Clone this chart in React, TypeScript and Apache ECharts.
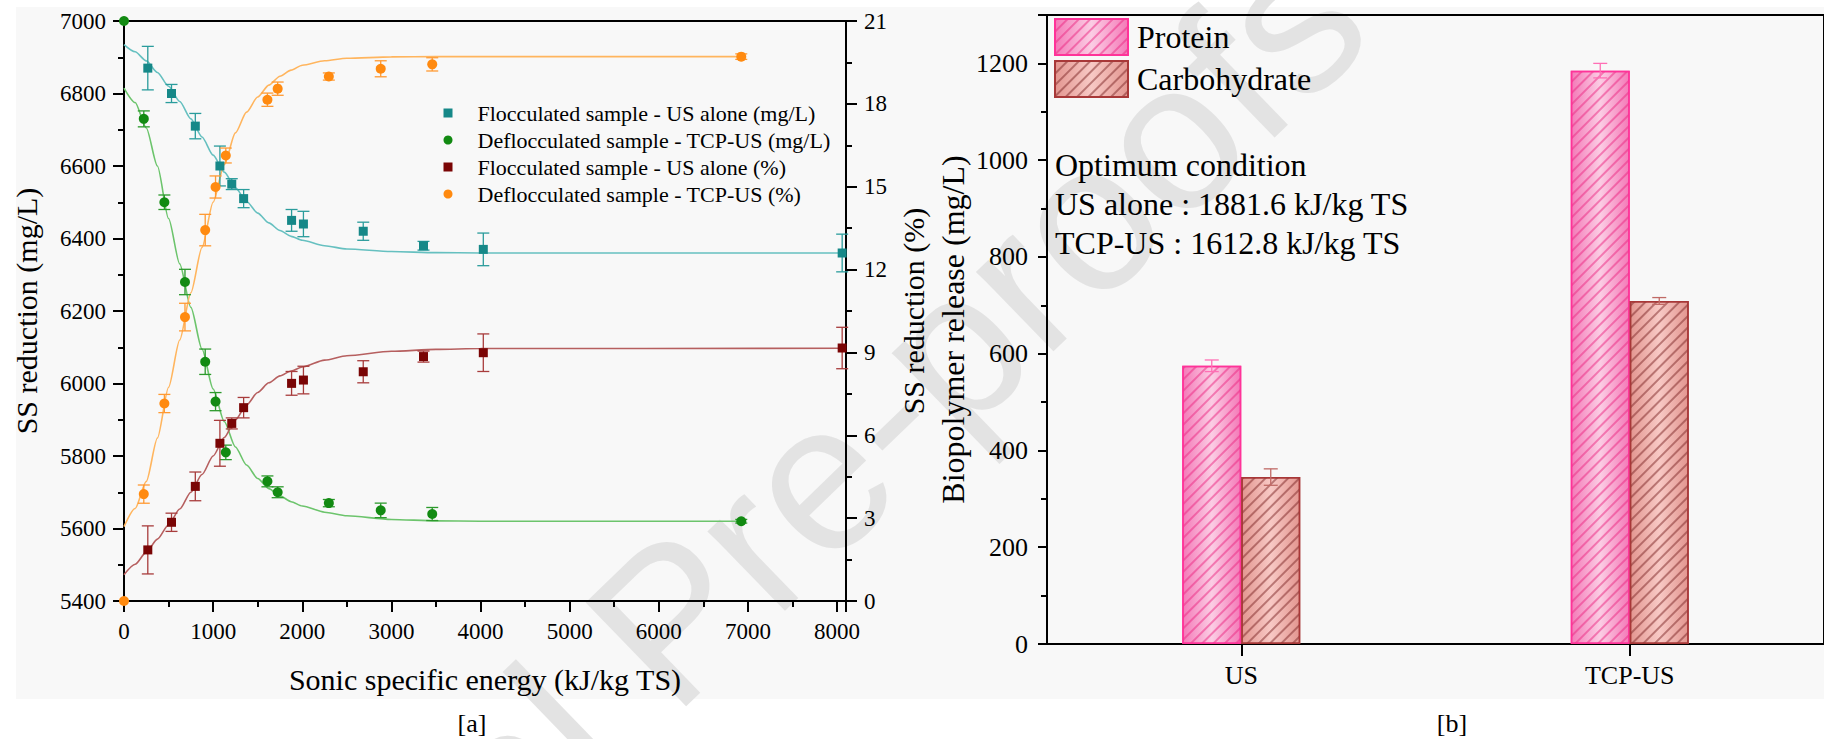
import React, { useEffect, useRef } from "react";
import * as echarts from "echarts";

const FONT = "Liberation Serif";

// ---------- Panel [a] data ----------
const energyFloc = [267, 533, 800, 1076, 1209, 1342, 1880, 2013, 2684, 3360, 4031, 8057];
const flocMg = [6870, 6800, 6710, 6600, 6550, 6510, 6450, 6440, 6420, 6380, 6370, 6360];
const flocMgErr = [60, 25, 35, 55, 15, 25, 30, 35, 25, 12, 45, 52];
const flocPct = [1.85, 2.85, 4.15, 5.71, 6.43, 7.0, 7.88, 8.0, 8.3, 8.85, 8.99, 9.16];
const flocPctErr = [0.87, 0.33, 0.52, 0.83, 0.2, 0.37, 0.43, 0.5, 0.4, 0.2, 0.68, 0.75];

const energyDefloc = [0, 222, 453, 684, 911, 1027, 1142, 1609, 1724, 2298, 2880, 3458, 6925];
const deflocMg = [7000, 6730, 6500, 6280, 6060, 5950, 5810, 5730, 5700, 5670, 5650, 5640, 5620];
const deflocMgErr = [0, 22, 20, 35, 35, 25, 20, 15, 15, 10, 20, 18, 5];
const deflocPct = [0, 3.87, 7.15, 10.28, 13.43, 14.99, 16.13, 18.15, 18.55, 18.99, 19.27, 19.43, 19.71];
const deflocPctErr = [0, 0.33, 0.33, 0.5, 0.57, 0.4, 0.27, 0.24, 0.24, 0.13, 0.29, 0.24, 0.1];

// fitted curves
const fitFlocX = [0, 125, 250, 375, 500, 625, 750, 875, 1000, 1125, 1250, 1375, 1500, 1625, 1750, 1875, 2000, 2250, 2500, 3000, 3500, 4000, 8057];
const fitFlocMg = [6935, 6915, 6890, 6858, 6820, 6778, 6730, 6680, 6630, 6583, 6540, 6502, 6470, 6443, 6422, 6406, 6395, 6380, 6371, 6364, 6361, 6360, 6360];
const fitFlocPct = [0.95, 1.33, 1.77, 2.24, 2.76, 3.33, 3.94, 4.58, 5.25, 5.92, 6.56, 7.1, 7.55, 7.9, 8.15, 8.33, 8.47, 8.72, 8.88, 9.04, 9.11, 9.14, 9.15];
const fitDeflocX = [0, 125, 250, 375, 500, 625, 750, 875, 1000, 1125, 1250, 1375, 1500, 1625, 1750, 1875, 2000, 2250, 2500, 3000, 3500, 4000, 6925];
const fitDeflocMg = [6815, 6775, 6705, 6600, 6455, 6330, 6210, 6095, 5985, 5895, 5825, 5775, 5738, 5710, 5690, 5674, 5662, 5645, 5635, 5625, 5621, 5620, 5620];
const fitDeflocPct = [2.69, 3.35, 4.33, 5.9, 7.74, 9.45, 11.16, 12.8, 14.44, 15.8, 16.95, 17.7, 18.25, 18.68, 19.0, 19.22, 19.4, 19.56, 19.65, 19.7, 19.71, 19.71, 19.71];

const nameFlocMg = "Flocculated sample - US alone (mg/L)";
const nameDeflocMg = "Deflocculated sample - TCP-US (mg/L)";
const nameFlocPct = "Flocculated sample - US alone (%)";
const nameDeflocPct = "Deflocculated sample - TCP-US (%)";

// ---------- Panel [b] data ----------
const bioCategories = ["US", "TCP-US"];
const protein = [575, 1185];
const proteinErr = [12, 15];
const carbohydrate = [345, 709];
const carbohydrateErr = [17, 7];

const annotationLines = [
  "Optimum condition",
  "US alone : 1881.6 kJ/kg TS",
  "TCP-US : 1612.8 kJ/kg TS",
];

const zip = (xs: number[], ys: number[]) => xs.map((x, i) => [x, ys[i]]);
const zip3 = (xs: number[], ys: number[], es: number[]) => xs.map((x, i) => [x, ys[i], es[i]]);

function errSeries(data: number[][], color: string, xAxisIndex: number, yAxisIndex: number, cap: number, offset = 0) {
  return {
    type: "custom",
    xAxisIndex,
    yAxisIndex,
    silent: true,
    z: 3,
    data,
    renderItem: (_p: any, api: any) => {
      const x = api.value(0);
      const y = api.value(1);
      const e = api.value(2);
      if (!e) return { type: "group", children: [] };
      const hi = api.coord([x, y + e]);
      const lo = api.coord([x, y - e]);
      const cx = hi[0] + offset;
      const st = { stroke: color, lineWidth: 1.3 };
      return {
        type: "group",
        children: [
          { type: "line", shape: { x1: cx, y1: hi[1], x2: cx, y2: lo[1] }, style: st },
          { type: "line", shape: { x1: cx - cap, y1: hi[1], x2: cx + cap, y2: hi[1] }, style: st },
          { type: "line", shape: { x1: cx - cap, y1: lo[1], x2: cx + cap, y2: lo[1] }, style: st },
        ],
      };
    },
  };
}

function fitSeries(name: string, data: number[][], color: string, yAxisIndex: number) {
  return {
    type: "line",
    name,
    xAxisIndex: 0,
    yAxisIndex,
    data,
    showSymbol: false,
    smooth: 0.25,
    smoothMonotone: "x",
    silent: true,
    z: 2,
    lineStyle: { color, width: 1.6 },
  };
}

function scatterSeries(name: string, data: number[][], color: string, symbol: string, size: number, yAxisIndex: number) {
  return {
    type: "scatter",
    name,
    xAxisIndex: 0,
    yAxisIndex,
    data,
    symbol,
    symbolSize: size,
    itemStyle: { color, opacity: 1 },
    z: 4,
  };
}

const axisLineStyle = { color: "#000", width: 2 };
const txt = (size: number) => ({ fontFamily: FONT, fontSize: size, color: "#000", fontWeight: "normal" as const, fontStyle: "normal" as const });

function gText(text: string, x: number, y: number, size: number, align: string) {
  return {
    type: "text",
    x,
    y,
    style: { text, fontFamily: FONT, fontSize: size, fill: "#000", align, verticalAlign: "middle" },
  };
}

function buildOption() {
  const proteinFill = new echarts.graphic.LinearGradient(0, 0, 1, 0, [
    { offset: 0, color: "#f47ab8" },
    { offset: 0.5, color: "#fbcde4" },
    { offset: 1, color: "#f47ab8" },
  ]);
  const carbFill = new echarts.graphic.LinearGradient(0, 0, 1, 0, [
    { offset: 0, color: "#e39690" },
    { offset: 0.5, color: "#f8c9c5" },
    { offset: 1, color: "#e39690" },
  ]);
  const wmAngle = (44 * Math.PI) / 180;

  return {
    animation: false,
    backgroundColor: "#ffffff",
    textStyle: { fontFamily: FONT, color: "#000" },
    graphic: {
      elements: [
        { type: "rect", z: -20, silent: true, shape: { x: 16, y: 7, width: 1808, height: 692 }, style: { fill: "#f8f8f8" } },
        {
          type: "text",
          z: -19,
          silent: true,
          x: 86,
          y: 1185,
          rotation: wmAngle,
          style: {
            text: "Journal Pre-proofs",
            fontFamily: "Liberation Sans",
            fontSize: 210,
            fill: "#e3e3e3",
            align: "left",
            verticalAlign: "middle",
          },
        },
        ...annotationLines.map((t, i) => gText(t, 1055, 165 + i * 39, 32, "left")),
        gText("[a]", 472, 723, 26, "center"),
        gText("[b]", 1452, 723, 26, "center"),
      ],
    },
    legend: [
      {
        orient: "vertical",
        left: 443.5,
        top: 102,
        padding: 0,
        itemWidth: 9,
        itemHeight: 9,
        itemGap: 5,
        data: [
          { name: nameFlocMg, icon: "rect" },
          { name: nameDeflocMg, icon: "circle" },
          { name: nameFlocPct, icon: "rect" },
          { name: nameDeflocPct, icon: "circle" },
        ],
        textStyle: { ...txt(22), padding: [0, 0, 0, 20] },
        selectedMode: false,
      },
      {
        orient: "vertical",
        left: 1054,
        top: 18,
        padding: 0,
        itemWidth: 73,
        itemHeight: 36,
        itemGap: 4,
        data: [
          { name: "Protein", icon: "rect" },
          { name: "Carbohydrate", icon: "rect" },
        ],
        textStyle: { ...txt(32), lineHeight: 36, padding: [0, 0, 0, 4] },
        selectedMode: false,
      },
    ],
    grid: [
      { left: 124, top: 21, width: 722, height: 580, show: true, borderColor: "#000", borderWidth: 2, backgroundColor: "transparent" },
      { left: 1047, top: 15, width: 788, height: 629, show: true, borderColor: "#000", borderWidth: 2, backgroundColor: "transparent" },
    ],
    xAxis: [
      {
        type: "value",
        gridIndex: 0,
        min: 0,
        max: 8100,
        interval: 1000,
        axisLine: { show: true, onZero: false, lineStyle: axisLineStyle },
        axisTick: { show: true, length: 11, lineStyle: axisLineStyle },
        minorTick: { show: true, splitNumber: 2, length: 6, lineStyle: axisLineStyle },
        splitLine: { show: false },
        axisLabel: {
          ...txt(23),
          margin: 19,
          formatter: (v: number) => (v % 1000 === 0 ? String(v) : ""),
        },
        name: "Sonic specific energy (kJ/kg TS)",
        nameLocation: "middle",
        nameGap: 63,
        nameTextStyle: txt(30),
      },
      {
        type: "category",
        gridIndex: 1,
        data: bioCategories,
        axisLine: { show: true, onZero: false, lineStyle: axisLineStyle },
        axisTick: { show: true, alignWithLabel: true, length: 12, lineStyle: axisLineStyle },
        axisLabel: { ...txt(26), margin: 18 },
      },
    ],
    yAxis: [
      {
        type: "value",
        gridIndex: 0,
        min: 5400,
        max: 7000,
        interval: 200,
        axisLine: { show: true, onZero: false, lineStyle: axisLineStyle },
        axisTick: { show: true, length: 11, lineStyle: axisLineStyle },
        minorTick: { show: true, splitNumber: 2, length: 6, lineStyle: axisLineStyle },
        splitLine: { show: false },
        axisLabel: { ...txt(23), margin: 18, formatter: (v: number) => String(v) },
        name: "SS reduction (mg/L)",
        nameLocation: "middle",
        nameGap: 83,
        nameTextStyle: txt(30),
      },
      {
        type: "value",
        gridIndex: 0,
        position: "right",
        min: 0,
        max: 21,
        interval: 3,
        axisLine: { show: true, onZero: false, lineStyle: axisLineStyle },
        axisTick: { show: true, length: 11, lineStyle: axisLineStyle },
        minorTick: { show: true, splitNumber: 2, length: 6, lineStyle: axisLineStyle },
        splitLine: { show: false },
        axisLabel: { ...txt(23), margin: 18, formatter: (v: number) => String(v) },
        name: "SS reduction (%)",
        nameLocation: "middle",
        nameGap: 52,
        nameTextStyle: txt(30),
      },
      {
        type: "value",
        gridIndex: 1,
        min: 0,
        max: 1300,
        interval: 200,
        axisLine: { show: true, onZero: false, lineStyle: axisLineStyle },
        axisTick: { show: true, length: 9, lineStyle: axisLineStyle },
        minorTick: { show: true, splitNumber: 2, length: 6, lineStyle: axisLineStyle },
        splitLine: { show: false },
        axisLabel: {
          ...txt(26),
          margin: 19,
          formatter: (v: number) => (v % 200 === 0 ? String(v) : ""),
        },
        name: "Biopolymer release (mg/L)",
        nameLocation: "middle",
        nameGap: 78,
        nameTextStyle: txt(32),
      },
    ],
    series: [
      fitSeries("fit-floc-mg", zip(fitFlocX, fitFlocMg), "#66c0c0", 0),
      fitSeries("fit-defloc-mg", zip(fitDeflocX, fitDeflocMg), "#6cc46c", 0),
      fitSeries("fit-floc-pct", zip(fitFlocX, fitFlocPct), "#b65f5f", 1),
      fitSeries("fit-defloc-pct", zip(fitDeflocX, fitDeflocPct), "#ffb55e", 1),
      errSeries(zip3(energyFloc, flocMg, flocMgErr), "#2a9c9c", 0, 0, 6),
      errSeries(zip3(energyDefloc, deflocMg, deflocMgErr), "#2c9a2c", 0, 0, 6),
      errSeries(zip3(energyFloc, flocPct, flocPctErr), "#a83c3c", 0, 1, 6),
      errSeries(zip3(energyDefloc, deflocPct, deflocPctErr), "#ff9a33", 0, 1, 6),
      scatterSeries(nameFlocMg, zip(energyFloc, flocMg), "#168888", "rect", 9, 0),
      scatterSeries(nameDeflocMg, zip(energyDefloc, deflocMg), "#128a12", "circle", 10, 0),
      scatterSeries(nameFlocPct, zip(energyFloc, flocPct), "#7a0505", "rect", 9, 1),
      scatterSeries(nameDeflocPct, zip(energyDefloc, deflocPct), "#ff8a10", "circle", 10, 1),
      {
        type: "bar",
        name: "Protein",
        xAxisIndex: 1,
        yAxisIndex: 2,
        data: protein,
        barWidth: 59,
        barGap: "0%",
        itemStyle: {
          color: proteinFill,
          borderColor: "#ff3399",
          borderWidth: 1.5,
          decal: {
            symbol: "rect",
            symbolSize: 1,
            dashArrayX: [1, 0],
            dashArrayY: [1.2, 5.5],
            rotation: -Math.PI / 4,
            color: "rgba(236, 40, 130, 0.5)",
          },
        },
        z: 2,
      },
      {
        type: "bar",
        name: "Carbohydrate",
        xAxisIndex: 1,
        yAxisIndex: 2,
        data: carbohydrate,
        barWidth: 59,
        barGap: "0%",
        itemStyle: {
          color: carbFill,
          borderColor: "#a83838",
          borderWidth: 1.5,
          decal: {
            symbol: "rect",
            symbolSize: 1,
            dashArrayX: [1, 0],
            dashArrayY: [1.2, 5.5],
            rotation: -Math.PI / 4,
            color: "rgba(125, 40, 40, 0.5)",
          },
        },
        z: 2,
      },
      errSeries(protein.map((v, i) => [i, v, proteinErr[i]]), "#ff6fb5", 1, 2, 7, -29.5),
      errSeries(carbohydrate.map((v, i) => [i, v, carbohydrateErr[i]]), "#c06a66", 1, 2, 7, 29.5),
    ],
  };
}

export default function App() {
  const ref = useRef<HTMLDivElement>(null);
  useEffect(() => {
    document.body.style.margin = "0";
    const chart = echarts.init(ref.current as HTMLDivElement, null, { renderer: "svg" });
    chart.setOption(buildOption() as any);
    return () => chart.dispose();
  }, []);
  return <div ref={ref} style={{ width: 1824, height: 739 }} />;
}
